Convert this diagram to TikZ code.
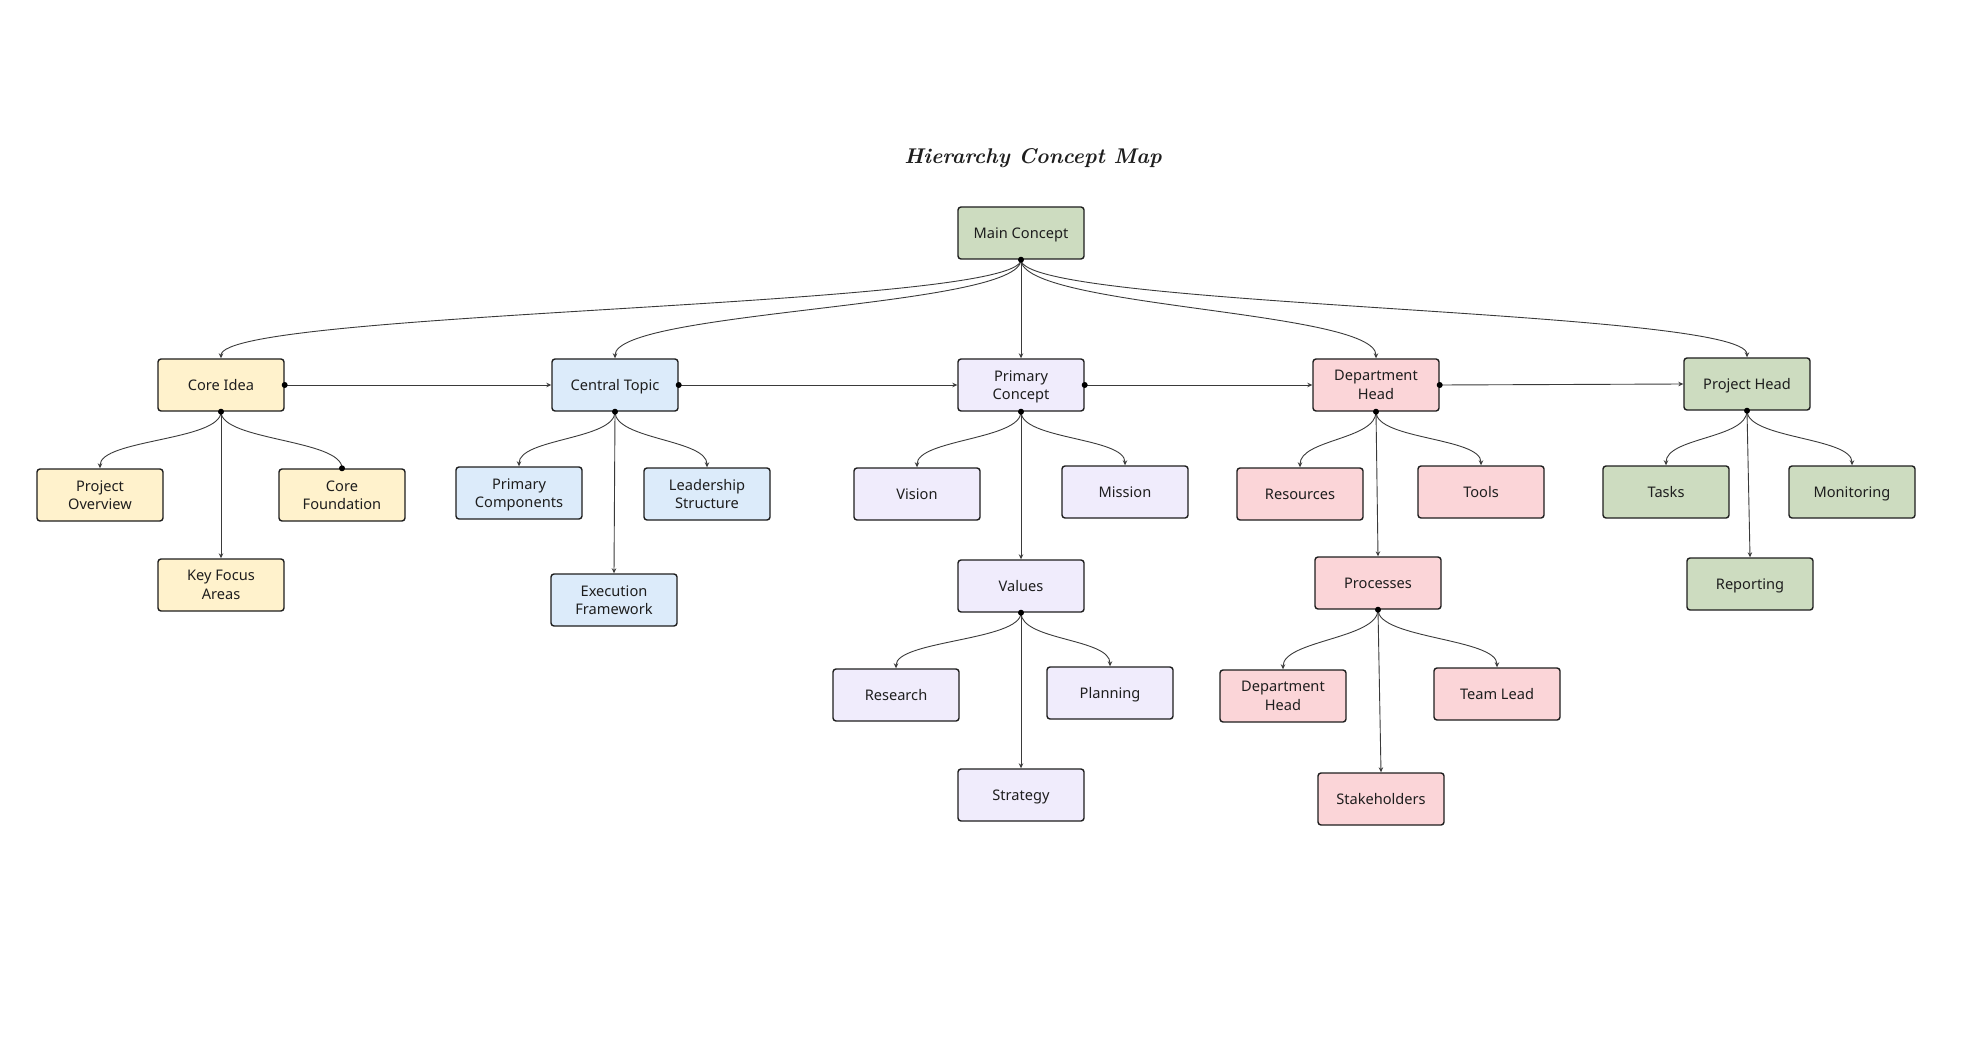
\documentclass[tikz,border=0pt]{standalone}
\usepackage{fontspec}
\setsansfont{Noto Sans}
\usetikzlibrary{arrows.meta}
\definecolor{cyel}{HTML}{FFF2CC}
\definecolor{cblue}{HTML}{DCEBFA}
\definecolor{clav}{HTML}{F0ECFC}
\definecolor{cpink}{HTML}{FBD5D8}
\definecolor{cgreen}{HTML}{CDDCC0}
\definecolor{boxline}{HTML}{1E1E1E}
\definecolor{linec}{HTML}{3A3A3A}
\definecolor{txt}{HTML}{1E1E1E}
\begin{document}
\begin{tikzpicture}[x=1pt,y=-1pt,
  box/.style={draw=boxline, line width=1.4pt, rounded corners=3pt, minimum width=126pt, minimum height=52pt, inner sep=0pt, align=center, text=txt, text depth=0pt, font=\sffamily\fontsize{14.6}{18.5}\selectfont},
  yel/.style={box, fill=cyel},
  blu/.style={box, fill=cblue},
  lav/.style={box, fill=clav},
  pnk/.style={box, fill=cpink},
  grn/.style={box, fill=cgreen},
  one/.style={text height=10.5pt},
  link/.style={draw=linec, line width=0.9pt, -{Stealth[length=5pt,width=4.5pt]}},
  plainlink/.style={draw=linec, line width=0.9pt},
  jdot/.style={fill=black}
]
\useasboundingbox (0,0) rectangle (1967,1040);

\node[text=txt, font=\rmfamily\bfseries\itshape\fontsize{21.3}{24}\selectfont] (title) at (1033,158) {Hierarchy Concept Map};

% level 0/1
\node[grn,one] (main) at (1021,233) {Main Concept};
\node[yel,one] (core) at (221,385) {Core Idea};
\node[blu,one] (central) at (615,385) {Central Topic};
\node[lav] (primary) at (1021,385) {Primary\\Concept};
\node[pnk] (dept) at (1376,385) {Department\\Head};
\node[grn,one] (projh) at (1747,384) {Project Head};

% yellow children
\node[yel] (povw) at (100,495) {Project\\Overview};
\node[yel] (cfound) at (342,495) {Core\\Foundation};
\node[yel] (kfa) at (221,585) {Key Focus\\Areas};

% blue children
\node[blu] (pcomp) at (519,493) {Primary\\Components};
\node[blu] (lead) at (707,494) {Leadership\\Structure};
\node[blu] (exec) at (614,600) {Execution\\Framework};

% lavender children
\node[lav,one] (vision) at (917,494) {Vision};
\node[lav,one] (mission) at (1125,492) {Mission};
\node[lav,one] (values) at (1021,586) {Values};
\node[lav,one] (research) at (896,695) {Research};
\node[lav,one] (planning) at (1110,693) {Planning};
\node[lav,one] (strategy) at (1021,795) {Strategy};

% pink children
\node[pnk,one] (resources) at (1300,494) {Resources};
\node[pnk,one] (tools) at (1481,492) {Tools};
\node[pnk,one] (processes) at (1378,583) {Processes};
\node[pnk] (dept2) at (1283,696) {Department\\Head};
\node[pnk,one] (teamlead) at (1497,694) {Team Lead};
\node[pnk,one] (stake) at (1381,799) {Stakeholders};

% green children
\node[grn,one] (tasks) at (1666,492) {Tasks};
\node[grn,one] (monitor) at (1852,492) {Monitoring};
\node[grn,one] (report) at (1750,584) {Reporting};

% top-level connectors
\draw[link] (main.south) .. controls +(0,48) and +(0,-48) .. (core.north);
\draw[link] (main.south) .. controls +(0,48) and +(0,-48) .. (central.north);
\draw[link] (main.south) -- (primary.north);
\draw[link] (main.south) .. controls +(0,48) and +(0,-48) .. (dept.north);
\draw[link] (main.south) .. controls +(0,48) and +(0,-48) .. (projh.north);

% horizontal chain
\draw[link] (core.east) -- (central.west);
\draw[link] (central.east) -- (primary.west);
\draw[link] (primary.east) -- (dept.west);
\draw[link] (dept.east) -- (projh.west);

% core idea
\draw[link] (core.south) .. controls +(0,29) and +(0,-29) .. (povw.north);
\draw[plainlink] (core.south) .. controls +(0,29) and +(0,-29) .. (cfound.north);
\draw[link] (core.south) -- (kfa.north);

% central topic
\draw[link] (central.south) .. controls +(0,28) and +(0,-28) .. (pcomp.north);
\draw[link] (central.south) .. controls +(0,28) and +(0,-28) .. (lead.north);
\draw[link] (central.south) -- (exec.north);

% primary concept
\draw[link] (primary.south) .. controls +(0,28) and +(0,-28) .. (vision.north);
\draw[link] (primary.south) .. controls +(0,28) and +(0,-28) .. (mission.north);
\draw[link] (primary.south) -- (values.north);
\draw[link] (values.south) .. controls +(0,28) and +(0,-28) .. (research.north);
\draw[link] (values.south) .. controls +(0,28) and +(0,-28) .. (planning.north);
\draw[link] (values.south) -- (strategy.north);

% department head
\draw[link] (dept.south) .. controls +(0,28) and +(0,-28) .. (resources.north);
\draw[link] (dept.south) .. controls +(0,28) and +(0,-28) .. (tools.north);
\draw[link] (dept.south) -- (processes.north);
\draw[link] (processes.south) .. controls +(0,29) and +(0,-29) .. (dept2.north);
\draw[link] (processes.south) .. controls +(0,29) and +(0,-29) .. (teamlead.north);
\draw[link] (processes.south) -- (stake.north);

% project head
\draw[link] (projh.south) .. controls +(0,28) and +(0,-28) .. (tasks.north);
\draw[link] (projh.south) .. controls +(0,28) and +(0,-28) .. (monitor.north);
\draw[link] (projh.south) -- (report.north);

% junction dots
\foreach \a in {main.south, core.south, core.east, central.south, central.east, primary.south, primary.east, dept.south, dept.east, projh.south, values.south, processes.south, cfound.north}
  \fill[jdot] (\a) circle (3pt);
\end{tikzpicture}
\end{document}
